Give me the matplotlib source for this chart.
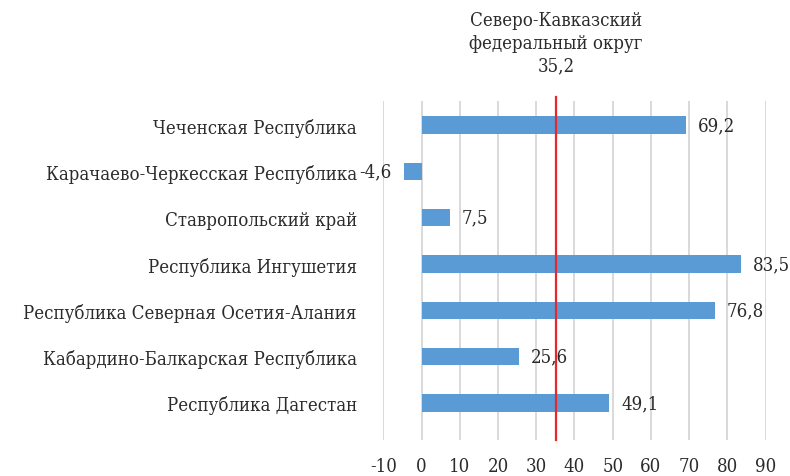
from matplotlib import pyplot as plt
import numpy as np

# regions, bottom to top as on the chart
regions = ['Республика Дагестан',
           'Кабардино-Балкарская Республика',
           'Республика Северная Осетия-Алания',
           'Республика Ингушетия',
           'Ставропольский край',
           'Карачаево-Черкесская Республика',
           'Чеченская Республика']
values = [49.1, 25.6, 76.8, 83.5, 7.5, -4.6, 69.2]

district_name = 'Северо-Кавказский\nфедеральный округ'
district_value = 35.2

x_ticks = list(range(-10, 91, 10))

plt.rcParams['font.family'] = ['DejaVu Serif']
plt.rcParams['font.stretch'] = 'condensed'
text_col = '#2b2b2b'
fs = 13.3

fig = plt.figure(figsize=(7.9, 4.77), dpi=100)
ax = fig.add_axes([0.4852, 0.0755, 0.4840, 0.7107])

pos = np.arange(len(regions))
ax.barh(pos, values, height=0.37, color='#5b9bd5', zorder=2)

for y, v in zip(pos, values):
    txt = ('%.1f' % v).replace('.', ',')
    if v >= 0:
        ax.annotate(txt, (v, y), xytext=(8.5, 0), textcoords='offset points',
                    ha='left', va='center', fontsize=fs, color=text_col)
    else:
        ax.annotate(txt, (v, y), xytext=(-9, 0), textcoords='offset points',
                    ha='right', va='center', fontsize=fs, color=text_col)

# district average
ax.axvline(district_value, ymin=0, ymax=1.012, color='#e8262b', lw=1.6,
           zorder=3, clip_on=False)
ax.text(district_value, 1.08,
        district_name + '\n' + ('%.1f' % district_value).replace('.', ','),
        transform=ax.get_xaxis_transform(), ha='center', va='bottom',
        fontsize=fs, color=text_col, linespacing=1.3)

ax.set_xlim(-10, 90)
ax.set_ylim(-0.8, 6.52)
ax.set_xticks(x_ticks)
ax.set_xticklabels([str(t) for t in x_ticks])
ax.set_yticks(pos)
ax.set_yticklabels(regions)
ax.tick_params(axis='y', length=0, pad=19, labelsize=fs, labelcolor=text_col)
ax.tick_params(axis='x', length=0, pad=12, labelsize=fs, labelcolor=text_col)

ax.grid(axis='x', color='#d9d9d9', lw=1.4, zorder=0)
for s in ax.spines.values():
    s.set_visible(False)

plt.savefig('out.png', dpi=100)
